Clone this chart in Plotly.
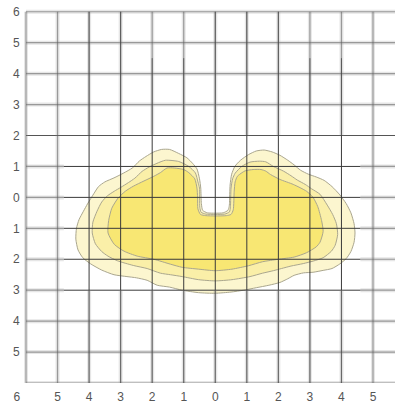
import plotly.graph_objects as go

# Tick positions and their printed labels (magnitudes only);
# the leftmost "6" sits in the corner, just left of the frame
x_ticks = [-6.29, -5, -4, -3, -2, -1, 0, 1, 2, 3, 4, 5]
x_labels = ["6", "5", "4", "3", "2", "1", "0", "1", "2", "3", "4", "5"]
y_ticks = [6, 5, 4, 3, 2, 1, 0, -1, -2, -3, -4, -5]
y_labels = ["6", "5", "4", "3", "2", "1", "0", "1", "2", "3", "4", "5"]

# Grid line positions
grid_x = [-6, -5, -4, -3, -2, -1, 0, 1, 2, 3, 4, 5]
grid_y = [6, 5, 4, 3, 2, 1, 0, -1, -2, -3, -4, -5, -6]
core_x = [-4, -3, -2, -1, 0, 1, 2, 3, 4]
core_y = [1, 0, -1, -2, -3]

# Outer contour (lightest band)
outer_x = [0, 0.25, 0.4, 0.44, 0.45, 0.47, 0.52, 0.62, 0.8, 1.05, 1.3, 1.55, 1.8, 2.05, 2.3, 2.5,
           2.7, 2.95, 3.2, 3.45, 3.7, 3.95, 4.15, 4.3, 4.4, 4.43, 4.4, 4.3, 4.15, 3.95, 3.7, 3.42,
           3.1, 2.8, 2.5, 2.3, 2.05, 1.7, 1.3, 0.9, 0.5, 0, -0.53, -1.05, -1.45, -1.84, -2.16,
           -2.5, -2.8, -3.21, -3.6, -3.95, -4.2, -4.35, -4.42, -4.4, -4.32, -4.18, -4.05, -3.85,
           -3.7, -3.5, -3.21, -2.9, -2.63, -2.4, -2.2, -1.95, -1.7, -1.45, -1.16, -0.9, -0.72,
           -0.58, -0.5, -0.46, -0.44, -0.4, -0.25, 0]
outer_y = [-0.51, -0.5, -0.42, -0.3, -0.2, 0.4, 0.75, 1.0, 1.2, 1.38, 1.5, 1.53, 1.47, 1.36, 1.2,
           1.05, 0.88, 0.75, 0.66, 0.55, 0.35, 0.08, -0.2, -0.5, -0.85, -1.15, -1.45, -1.75, -1.98,
           -2.15, -2.3, -2.36, -2.42, -2.44, -2.52, -2.63, -2.75, -2.84, -2.92, -3.0, -3.06, -3.1,
           -3.08, -3.0, -2.9, -2.84, -2.68, -2.6, -2.56, -2.5, -2.35, -2.15, -1.95, -1.7, -1.35,
           -1.0, -0.72, -0.45, -0.21, 0.12, 0.35, 0.5, 0.63, 0.79, 0.95, 1.18, 1.32, 1.47, 1.55,
           1.55, 1.42, 1.28, 1.1, 0.92, 0.6, 0.3, -0.2, -0.42, -0.5, -0.51]

# Middle contour
middle_x = [0, 0.3, 0.45, 0.48, 0.5, 0.55, 0.63, 0.84, 1.1, 1.4, 1.6, 1.84, 2.16, 2.4, 2.6, 2.85,
            3.05, 3.32, 3.55, 3.72, 3.84, 3.88, 3.8, 3.68, 3.42, 3.1, 2.79, 2.4, 2.1, 1.84, 1.5,
            1.1, 0.53, 0, -0.53, -1.05, -1.42, -1.74, -2.16, -2.6, -3.1, -3.4, -3.6, -3.8, -3.9,
            -3.88, -3.75, -3.6, -3.42, -3.2, -3.0, -2.75, -2.55, -2.32, -2.1, -1.85, -1.58, -1.16,
            -0.84, -0.63, -0.55, -0.5, -0.49, -0.45, -0.3, 0]
middle_y = [-0.55, -0.54, -0.47, -0.3, 0.3, 0.6, 0.78, 1.0, 1.14, 1.17, 1.15, 1.0, 0.85, 0.7,
            0.56, 0.42, 0.28, 0.1, -0.25, -0.55, -0.85, -1.2, -1.55, -1.74, -1.95, -2.06, -2.14,
            -2.22, -2.3, -2.37, -2.45, -2.56, -2.66, -2.7, -2.66, -2.56, -2.5, -2.45, -2.3, -2.2,
            -2.05, -1.9, -1.75, -1.5, -1.15, -0.8, -0.45, -0.15, 0.05, 0.2, 0.32, 0.48, 0.62, 0.84,
            0.98, 1.1, 1.2, 1.16, 1.0, 0.79, 0.5, 0.3, -0.32, -0.48, -0.54, -0.55]

# Inner contour (brightest area)
inner_x = [0, 0.35, 0.5, 0.57, 0.6, 0.63, 0.7, 0.85, 0.95, 1.2, 1.45, 1.6, 1.75, 2.05, 2.47,
           2.89, 3.1, 3.25, 3.37, 3.42, 3.32, 3.2, 2.89, 2.5, 2.0, 1.5, 1.05, 0.53, 0, -0.53,
           -1.05, -1.42, -1.95, -2.47, -2.89, -3.2, -3.4, -3.38, -3.28, -3.08, -2.85, -2.6,
           -2.26, -1.95, -1.74, -1.53, -1.3, -1.0, -0.84, -0.65, -0.58, -0.56, -0.55, -0.47,
           -0.3, 0]
inner_y = [-0.6, -0.59, -0.55, -0.4, 0.2, 0.5, 0.68, 0.8, 0.86, 0.9, 0.9, 0.85, 0.74, 0.58, 0.42,
           0.2, 0.0, -0.3, -0.75, -1.1, -1.45, -1.6, -1.79, -1.93, -2.0, -2.08, -2.21, -2.32,
           -2.37, -2.32, -2.26, -2.16, -2.0, -1.9, -1.74, -1.52, -1.15, -0.75, -0.35, -0.02, 0.2,
           0.36, 0.53, 0.68, 0.8, 0.95, 0.95, 0.9, 0.8, 0.6, 0.3, 0.0, -0.37, -0.55, -0.59, -0.6]

bands = [
    (outer_x, outer_y, "#fcf6cf"),
    (middle_x, middle_y, "#faefa8"),
    (inner_x, inner_y, "#f8e773"),
]

W, H = 395, 404
UNIT = 31.545                      # pixels per grid unit
FRAME_LEFT_PX = 26                 # where x = -6 sits
X_MIN, X_MAX = -6, 5.7             # framed grid extent
VIEW_X = [-6 - FRAME_LEFT_PX / UNIT, -6 + (W - FRAME_LEFT_PX) / UNIT]
Y_MIN, Y_MAX = -6, 6.38
LABEL_FONT = dict(family="Liberation Sans, Arial", size=12, color="#555555")

fig = go.Figure()
for bx, by, col in bands:
    fig.add_trace(go.Scatter(
        x=bx, y=by, mode="lines", fill="toself", fillcolor=col,
        line=dict(color="#aaa68e", width=1, shape="spline", smoothing=0.6),
        hoverinfo="skip", showlegend=False,
    ))

shapes = []


def soft_line(x0, y0, x1, y1):
    # a hazy line: wide faint halo plus a lighter core
    shapes.append(dict(type="line", x0=x0, y0=y0, x1=x1, y1=y1, xref="x", yref="y",
                       line=dict(color="rgba(140,140,140,0.22)", width=4), layer="above"))
    shapes.append(dict(type="line", x0=x0, y0=y0, x1=x1, y1=y1, xref="x", yref="y",
                       line=dict(color="rgba(90,90,90,0.55)", width=1.2), layer="above"))


def sharp_line(x0, y0, x1, y1, color="#3a3a3a"):
    shapes.append(dict(type="line", x0=x0, y0=y0, x1=x1, y1=y1, xref="x", yref="y",
                       line=dict(color=color, width=1), layer="above"))


# horizontal grid
for gy in grid_y:
    if gy in core_y:
        soft_line(X_MIN, gy, -4.8, gy)
        soft_line(4.6, gy, X_MAX, gy)
        sharp_line(-4.8, gy, 4.6, gy)
    elif gy == 2:
        sharp_line(X_MIN, gy, X_MAX, gy, "#555555")
    else:
        soft_line(X_MIN, gy, X_MAX, gy)

# vertical grid
for gx in grid_x:
    if gx in core_x:
        soft_line(gx, 2, gx, 6)
        sharp_line(gx, -3, gx, 2)
        soft_line(gx, -6, gx, -3)
        sharp_line(gx, -6, gx, -3, "rgba(70,70,70,0.6)")
        sharp_line(gx, 2, gx, 6 if gx in (-4, -3, 0, 1, 2) else 4.5, "rgba(60,60,60,0.7)")
    else:
        soft_line(gx, Y_MIN, gx, 6)

fig.update_layout(
    width=W, height=H,
    margin=dict(l=0, r=0, t=0, b=14),
    paper_bgcolor="white", plot_bgcolor="white",
    shapes=shapes,
    xaxis=dict(range=VIEW_X, domain=[0, 1], showgrid=False, zeroline=False, showline=False,
               tickvals=x_ticks, ticktext=x_labels, ticks="outside", ticklen=3,
               tickcolor="rgba(0,0,0,0)", tickfont=LABEL_FONT),
    yaxis=dict(range=[Y_MIN, Y_MAX], anchor="free", position=FRAME_LEFT_PX / W,
               showgrid=False, zeroline=False, showline=False,
               tickvals=y_ticks, ticktext=y_labels, ticks="outside", ticklen=4,
               tickcolor="rgba(0,0,0,0)", tickfont=LABEL_FONT),
)

fig.write_html("out.html")
